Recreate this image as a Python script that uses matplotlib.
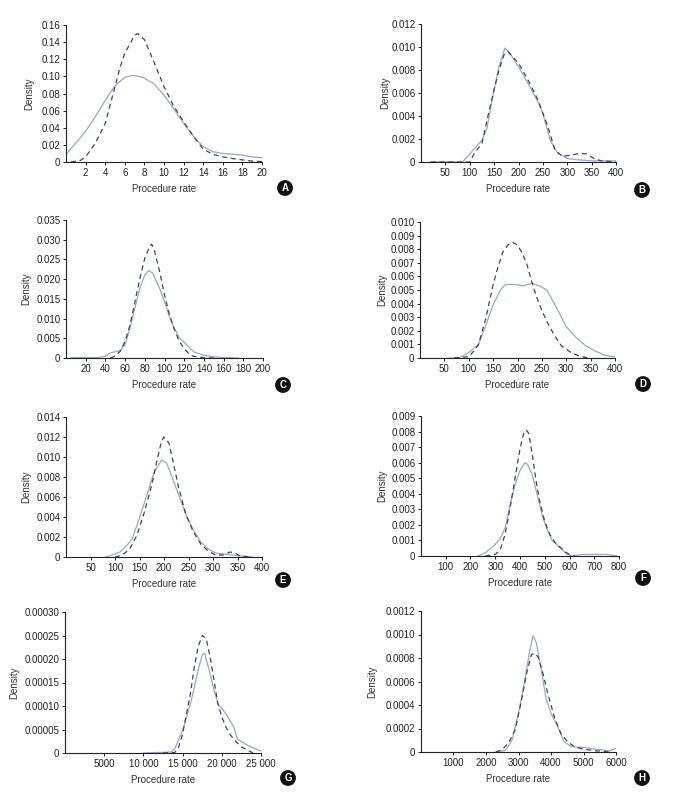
import matplotlib
matplotlib.use('Agg')
import matplotlib.pyplot as plt

plt.rcParams['font.family'] = ['Liberation Sans Narrow', 'Liberation Sans', 'DejaVu Sans']

# ---- panel A ----
a_solid_x = [0, 1, 2, 3, 4, 5, 6, 6.8, 7.5, 8, 9, 10, 11, 12, 13, 14, 15, 16, 17, 18, 19, 20]
a_solid_y = [0.009, 0.022, 0.036, 0.053, 0.072, 0.089, 0.099, 0.101, 0.100, 0.098, 0.091, 0.078,
             0.062, 0.045, 0.030, 0.018, 0.012, 0.010, 0.009, 0.008, 0.006, 0.005]
a_dash_x = [0.5, 1, 1.5, 2, 3, 4, 5, 5.5, 6, 7, 7.3, 8, 9, 10, 11, 12, 13, 14, 15, 16, 17, 18, 19, 20]
a_dash_y = [0, 0.001, 0.002, 0.006, 0.022, 0.045, 0.088, 0.110, 0.127, 0.148, 0.150, 0.143, 0.116,
            0.088, 0.065, 0.047, 0.030, 0.015, 0.009, 0.006, 0.004, 0.0025, 0.001, 0.0005]

# ---- panel B ----
b_solid_x = [20, 85, 100, 125, 135, 150, 160, 172, 180, 200, 220, 240, 250, 265, 280, 300, 320, 350, 400]
b_solid_y = [0, 0, 0.0007, 0.0019, 0.0029, 0.0063, 0.0083, 0.0099, 0.0096, 0.0083, 0.0068, 0.0052,
             0.0042, 0.0019, 0.0008, 0.0003, 0.0002, 0.0001, 0.0001]
b_dash_x = [20, 100, 110, 125, 140, 150, 160, 170, 178, 200, 220, 240, 260, 275, 290, 310, 325, 340,
            355, 370, 400]
b_dash_y = [0, 0, 0.0008, 0.0016, 0.0045, 0.0063, 0.0080, 0.0093, 0.0096, 0.0086, 0.0071, 0.0054,
            0.0031, 0.0010, 0.0005, 0.0006, 0.00075, 0.0007, 0.0003, 0.0001, 0]

# ---- panel C ----
c_solid_x = [5, 30, 40, 45, 55, 60, 65, 70, 75, 80, 84, 88, 95, 100, 105, 110, 115, 120, 125, 130,
             140, 150, 160, 175]
c_solid_y = [0.0001, 0.0001, 0.0004, 0.0013, 0.0019, 0.0034, 0.0076, 0.0127, 0.0177, 0.0211, 0.0222,
             0.0215, 0.0177, 0.0143, 0.0105, 0.0076, 0.0051, 0.0040, 0.0027, 0.0015, 0.0007, 0.0003,
             0.0001, 0]
c_dash_x = [45, 50, 55, 60, 65, 70, 75, 80, 85, 87, 90, 95, 100, 105, 110, 115, 120, 125, 130, 140, 150]
c_dash_y = [0, 0.0005, 0.0017, 0.0042, 0.0084, 0.0143, 0.0202, 0.0253, 0.0283, 0.0289, 0.0270, 0.0220,
            0.0160, 0.0110, 0.0072, 0.0042, 0.0024, 0.0010, 0.0004, 0.0001, 0]

# ---- panel D ----
d_solid_x = [60, 80, 100, 120, 135, 150, 165, 175, 185, 200, 210, 230, 245, 260, 280, 300, 320, 340,
             360, 380, 395, 400]
d_solid_y = [0, 0, 0.0004, 0.0010, 0.0024, 0.0039, 0.0050, 0.0054, 0.0054, 0.0054, 0.0053, 0.0055,
             0.0053, 0.0050, 0.0037, 0.0023, 0.0015, 0.0009, 0.0005, 0.0002, 0.0001, 0.0001]
d_dash_x = [70, 100, 110, 120, 135, 150, 160, 170, 180, 190, 200, 210, 220, 230, 240, 250, 260, 275,
            290, 310, 330, 350]
d_dash_y = [0, 0.0001, 0.0005, 0.0010, 0.0029, 0.0054, 0.0067, 0.0078, 0.0083, 0.0085, 0.0083, 0.0077,
            0.0068, 0.0055, 0.0044, 0.0035, 0.0027, 0.0017, 0.0009, 0.0004, 0.0001, 0]

# ---- panel E ----
e_solid_x = [80, 95, 110, 125, 135, 150, 165, 180, 195, 205, 215, 230, 245, 260, 275, 290, 305, 320,
             340, 360, 380]
e_solid_y = [0, 0.0002, 0.0005, 0.0012, 0.0018, 0.0039, 0.0062, 0.0085, 0.0097, 0.0094, 0.0082, 0.0062,
             0.0042, 0.0027, 0.0015, 0.0008, 0.0004, 0.0003, 0.0002, 0.0001, 0]
e_dash_x = [100, 115, 130, 145, 160, 175, 185, 195, 200, 210, 220, 230, 245, 260, 275, 290, 305, 320,
            335, 345, 355, 375]
e_dash_y = [0, 0.0002, 0.0008, 0.0022, 0.0045, 0.0072, 0.0095, 0.0116, 0.0120, 0.0114, 0.0092, 0.0069,
            0.0042, 0.0025, 0.0013, 0.0006, 0.0002, 0.0002, 0.0005, 0.0004, 0.0001, 0]

# ---- panel F ----
f_solid_x = [230, 260, 290, 320, 340, 360, 380, 400, 420, 430, 450, 470, 490, 510, 530, 550, 570, 590,
             610, 650, 700, 750, 790]
f_solid_y = [0, 0.0002, 0.0006, 0.0011, 0.0018, 0.0033, 0.0046, 0.0055, 0.0060, 0.0059, 0.0052, 0.0039,
             0.0026, 0.0017, 0.0010, 0.0007, 0.0004, 0.0001, 0, 0.0001, 0.0001, 0.0001, 0]
f_dash_x = [260, 300, 320, 340, 360, 380, 400, 415, 425, 435, 450, 465, 480, 500, 520, 540, 560, 580,
            600, 620]
f_dash_y = [0, 0.0001, 0.0004, 0.0014, 0.0031, 0.0050, 0.0069, 0.0079, 0.0081, 0.0079, 0.0065, 0.0048,
            0.0035, 0.0022, 0.0014, 0.0009, 0.0006, 0.0003, 0.0001, 0]

# ---- panel G ----
g_solid_x = [10000, 13500, 14000, 15000, 16000, 17000, 17500, 17800, 18500, 19000, 19500, 20500, 21500,
             22000, 23000, 24000, 25000]
g_solid_y = [0, 0.000002, 0.000009, 0.000048, 0.000105, 0.000177, 0.000209, 0.000212, 0.000170,
             0.000134, 0.000105, 0.000084, 0.000056, 0.000030, 0.000019, 0.000011, 0.000004]
g_dash_x = [12500, 14000, 14500, 15000, 16000, 16500, 17000, 17500, 18000, 18500, 19000, 19500, 20000,
            20500, 21000, 21500, 22000, 22500, 23500, 24000]
g_dash_y = [0, 0.000001, 0.000013, 0.000040, 0.000127, 0.000184, 0.000227, 0.000250, 0.000244,
            0.000205, 0.000155, 0.000105, 0.000077, 0.000056, 0.000041, 0.000030, 0.000021, 0.000013,
            0.000004, 0]

# ---- panel H ----
h_solid_x = [2300, 2600, 2800, 3000, 3200, 3350, 3450, 3550, 3700, 3850, 4000, 4200, 4400, 4600, 4800,
             5000, 5200, 5500, 5800, 6000]
h_solid_y = [0, 0.000014, 0.00010, 0.00033, 0.00062, 0.00087, 0.00099, 0.00093, 0.00070, 0.00045,
             0.00033, 0.00022, 0.00009, 0.00005, 0.00004, 0.00004, 0.00003, 0.00002, 0.00001, 0.00003]
h_dash_x = [2300, 2500, 2700, 2900, 3100, 3250, 3400, 3500, 3600, 3750, 3900, 4100, 4300, 4500, 4700,
            4900, 5100, 5400, 5800]
h_dash_y = [0, 0.00002, 0.00008, 0.00019, 0.00045, 0.00067, 0.00083, 0.00084, 0.00081, 0.00067,
            0.00050, 0.00030, 0.00016, 0.00009, 0.00005, 0.00003, 0.00002, 0.00001, 0]

# ticks per panel
a_xticks = [2, 4, 6, 8, 10, 12, 14, 16, 18, 20]
a_yticks = [0, 0.02, 0.04, 0.06, 0.08, 0.10, 0.12, 0.14, 0.16]
a_ylabels = ['0', '0.02', '0.04', '0.06', '0.08', '0.10', '0.12', '0.14', '0.16']
b_xticks = [50, 100, 150, 200, 250, 300, 350, 400]
b_yticks = [0, 0.002, 0.004, 0.006, 0.008, 0.010, 0.012]
b_ylabels = ['0', '0.002', '0.004', '0.006', '0.008', '0.010', '0.012']
c_xticks = [20, 40, 60, 80, 100, 120, 140, 160, 180, 200]
c_yticks = [0, 0.005, 0.010, 0.015, 0.020, 0.025, 0.030, 0.035]
c_ylabels = ['0', '0.005', '0.010', '0.015', '0.020', '0.025', '0.030', '0.035']
d_xticks = [50, 100, 150, 200, 250, 300, 350, 400]
d_yticks = [0, 0.001, 0.002, 0.003, 0.004, 0.005, 0.006, 0.007, 0.008, 0.009, 0.010]
d_ylabels = ['0', '0.001', '0.002', '0.003', '0.004', '0.005', '0.006', '0.007', '0.008', '0.009', '0.010']
e_xticks = [50, 100, 150, 200, 250, 300, 350, 400]
e_yticks = [0, 0.002, 0.004, 0.006, 0.008, 0.010, 0.012, 0.014]
e_ylabels = ['0', '0.002', '0.004', '0.006', '0.008', '0.010', '0.012', '0.014']
f_xticks = [100, 200, 300, 400, 500, 600, 700, 800]
f_yticks = [0, 0.001, 0.002, 0.003, 0.004, 0.005, 0.006, 0.007, 0.008, 0.009]
f_ylabels = ['0', '0.001', '0.002', '0.003', '0.004', '0.005', '0.006', '0.007', '0.008', '0.009']
g_xticks = [5000, 10000, 15000, 20000, 25000]
g_xlabels = ['5000', '10 000', '15 000', '20 000', '25 000']
g_yticks = [0, 0.00005, 0.00010, 0.00015, 0.00020, 0.00025, 0.00030]
g_ylabels = ['0', '0.00005', '0.00010', '0.00015', '0.00020', '0.00025', '0.00030']
h_xticks = [1000, 2000, 3000, 4000, 5000, 6000]
h_yticks = [0, 0.0002, 0.0004, 0.0006, 0.0008, 0.0010, 0.0012]
h_ylabels = ['0', '0.0002', '0.0004', '0.0006', '0.0008', '0.0010', '0.0012']

panels = [
    ('A', a_solid_x, a_solid_y, a_dash_x, a_dash_y, 20, a_xticks, None, a_yticks, a_ylabels),
    ('B', b_solid_x, b_solid_y, b_dash_x, b_dash_y, 400, b_xticks, None, b_yticks, b_ylabels),
    ('C', c_solid_x, c_solid_y, c_dash_x, c_dash_y, 200, c_xticks, None, c_yticks, c_ylabels),
    ('D', d_solid_x, d_solid_y, d_dash_x, d_dash_y, 400, d_xticks, None, d_yticks, d_ylabels),
    ('E', e_solid_x, e_solid_y, e_dash_x, e_dash_y, 400, e_xticks, None, e_yticks, e_ylabels),
    ('F', f_solid_x, f_solid_y, f_dash_x, f_dash_y, 800, f_xticks, None, f_yticks, f_ylabels),
    ('G', g_solid_x, g_solid_y, g_dash_x, g_dash_y, 25000, g_xticks, g_xlabels, g_yticks, g_ylabels),
    ('H', h_solid_x, h_solid_y, h_dash_x, h_dash_y, 6000, h_xticks, None, h_yticks, h_ylabels),
]

# axes boxes in pixels: left, top, right, bottom
boxes = {
    'A': (66, 25, 262, 162), 'B': (421, 24, 616, 162),
    'C': (66, 220, 263, 358), 'D': (420, 222, 615, 358),
    'E': (66, 417, 262, 557), 'F': (421, 416, 619, 556),
    'G': (65, 612, 261, 753), 'H': (421, 611, 616, 752),
}
badges = {'A': (285, 188), 'B': (642, 190), 'C': (283, 385), 'D': (643, 384),
          'E': (283, 580), 'F': (643, 578), 'G': (288, 778), 'H': (642, 778)}
ylab_x = {'A': 29, 'B': 385, 'C': 26, 'D': 382, 'E': 26, 'F': 382, 'G': 14, 'H': 372}

W, H = 675, 801
fig = plt.figure(figsize=(W / 100, H / 100), dpi=100)

for name, sx, sy, dx, dy, xmax, xt, xl, yt, yl in panels:
    l, t, r, b = boxes[name]
    ax = fig.add_axes([l / W, 1 - b / H, (r - l) / W, (b - t) / H])
    ax.plot(sx, sy, color='#92aac8', lw=0.9)
    ax.plot(dx, dy, color='#3d4759', lw=0.9, dashes=(4, 3))
    ax.set_xlim(0, xmax)
    ax.set_ylim(0, yt[-1])
    ax.set_xticks(xt)
    if xl:
        ax.set_xticklabels(xl)
    ax.set_yticks(yt)
    ax.set_yticklabels(yl)
    for s in ['top', 'right']:
        ax.spines[s].set_visible(False)
    for s in ['left', 'bottom']:
        ax.spines[s].set_linewidth(0.8)
        ax.spines[s].set_color('#222222')
    ax.tick_params(length=2, width=0.7, labelsize=7, pad=2, colors='#222222')
    ax.patch.set_alpha(0)
    # labels
    fig.text((l + r) / 2 / W, 1 - (b + 27) / H, 'Procedure rate', ha='center', va='center',
             fontsize=7, color='#333333')
    fig.text(ylab_x[name] / W, 1 - (t + b) / 2 / H, 'Density', rotation=90, ha='center',
             va='center', fontsize=7, color='#333333')
    bx, by = badges[name]
    fig.text(bx / W, 1 - by / H, name, ha='center', va='center', fontsize=7,
             fontweight='bold', color='white',
             bbox=dict(boxstyle='circle,pad=0.3', fc='#111111', ec='none'))

fig.savefig('out.png', dpi=100)
